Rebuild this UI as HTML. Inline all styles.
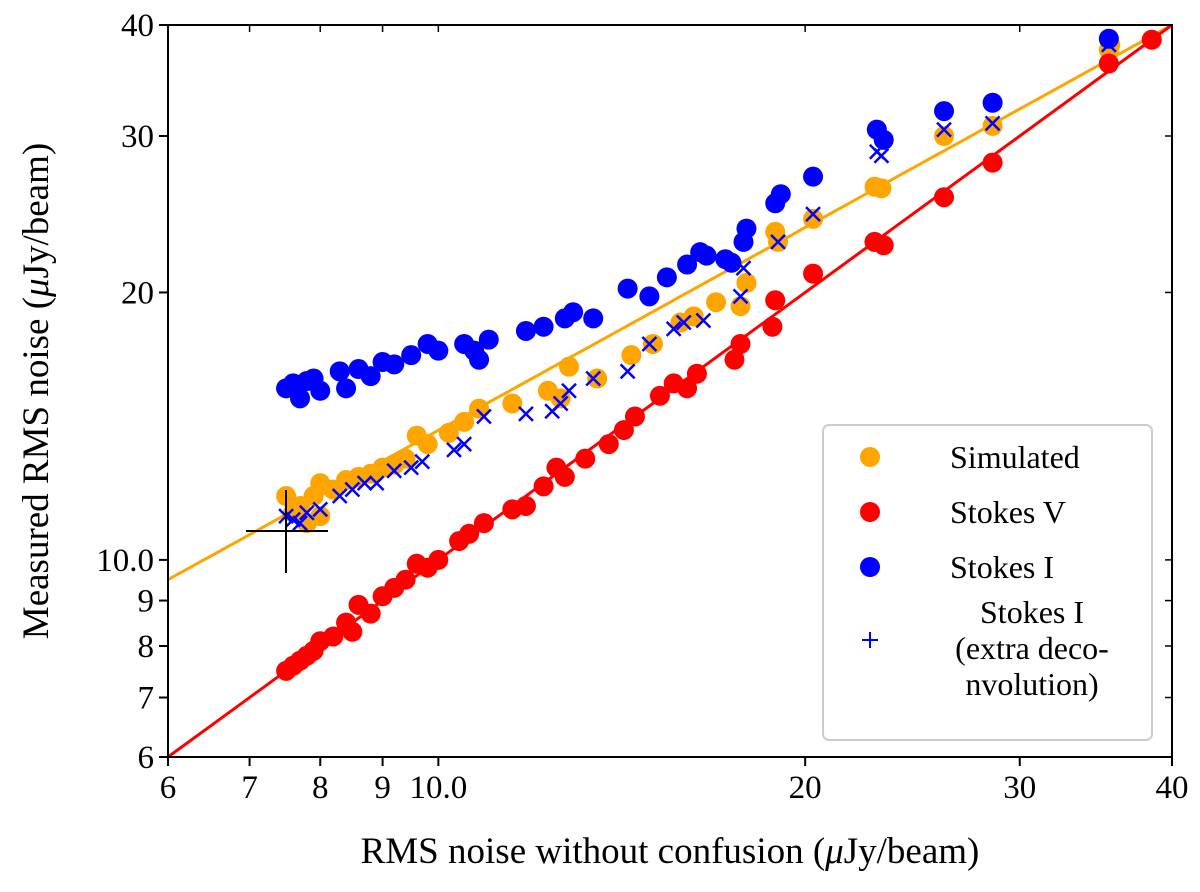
<!DOCTYPE html>
<html><head><meta charset="utf-8"><style>
body{margin:0;background:#fff}
svg text{font-family:"Liberation Serif",serif;fill:#000}
</style></head><body>
<svg width="1200" height="887" viewBox="0 0 1200 887" xmlns="http://www.w3.org/2000/svg">
<g id="plot"></g>
</svg>
<script>
const xTicks=[6,7,8,9,10,20,30,40];
const xTickLabels=["6","7","8","9","10.0","20","30","40"];
const yTicks=[6,7,8,9,10,20,30,40];
const yTickLabels=["6","7","8","9","10.0","20","30","40"];
const fitParams=[9.5,0.758];
const redX=[7.5,7.6,7.7,7.8,7.9,8.0,8.2,8.4,8.5,8.6,8.8,9.0,9.2,9.4,9.6,9.8,10.0,10.4,10.6,10.9,11.5,11.8,12.2,12.5,12.7,13.2,13.8,14.2,14.5,15.2,15.6,16.0,16.3,17.5,17.7,18.8,18.9,20.3,22.8,23.2,26.0,28.5,35.5,38.5];
const redY=[7.5,7.6,7.7,7.8,7.9,8.1,8.2,8.5,8.3,8.9,8.7,9.1,9.3,9.5,9.9,9.8,10.0,10.5,10.7,11.0,11.4,11.5,12.1,12.7,12.4,13.0,13.5,14.0,14.5,15.3,15.8,15.6,16.2,16.8,17.5,18.3,19.6,21.0,22.8,22.6,25.6,28.0,36.2,38.5];
const orangeX=[7.5,7.6,7.7,7.8,7.9,8.0,8.0,8.2,8.4,8.6,8.8,9.0,9.2,9.4,9.6,9.8,10.2,10.5,10.8,11.5,12.3,12.8,12.6,13.5,14.4,15.0,15.8,16.2,16.9,17.7,17.9,19.0,18.9,20.3,22.8,23.1,26.0,28.5,35.5,35.6];
const orangeY=[11.8,11.3,11.5,11.0,11.8,11.2,12.2,12.0,12.3,12.4,12.5,12.7,12.8,13.0,13.8,13.5,13.9,14.3,14.8,15.0,15.5,16.5,15.2,16.0,17.0,17.5,18.5,18.8,19.5,19.3,20.5,22.8,23.4,24.2,26.3,26.2,30.0,30.8,37.5,38.0];
const crossX=[7.5,7.6,7.7,7.8,8.0,8.3,8.5,8.7,8.9,9.2,9.5,9.7,10.3,10.5,10.9,11.8,12.4,12.6,12.8,13.4,14.3,14.9,15.6,15.9,16.5,17.7,17.8,19.0,20.3,22.9,23.1,26.0,28.5,35.5];
const crossY=[11.2,11.1,11.0,11.3,11.4,11.8,12.0,12.2,12.2,12.6,12.7,12.9,13.3,13.5,14.5,14.6,14.7,15.0,15.5,16.0,16.3,17.5,18.2,18.5,18.6,19.8,21.3,22.8,24.5,28.8,28.5,30.5,31.0,38.0];
const blueX=[7.5,7.6,7.7,7.8,7.9,8.0,8.3,8.4,8.6,8.8,9.0,9.2,9.5,9.8,10.0,10.5,10.8,10.7,11.0,11.8,12.2,12.7,12.9,13.4,14.3,14.9,15.4,16.0,16.4,16.6,17.2,17.4,17.8,17.9,18.9,19.1,20.3,22.9,23.2,26.0,28.5,35.5];
const blueY=[15.6,15.8,15.2,15.9,16.0,15.5,16.3,15.6,16.4,16.1,16.7,16.6,17.0,17.5,17.2,17.5,16.8,17.2,17.7,18.1,18.3,18.7,19.0,18.7,20.2,19.8,20.8,21.5,22.2,22.0,21.8,21.6,22.8,23.6,25.2,25.8,27.0,30.5,29.7,32.0,32.7,38.6];

const L=168,R=1172,T=25,B=757,xmin=6,xmax=40;
const sx=v=>L+(R-L)*Math.log(v/xmin)/Math.log(xmax/xmin);
const sy=v=>B-(B-T)*Math.log(v/xmin)/Math.log(xmax/xmin);
const NS="http://www.w3.org/2000/svg";
const g=document.getElementById('plot');
function mk(tag,attrs,parent){const e=document.createElementNS(NS,tag);for(const k in attrs)e.setAttribute(k,attrs[k]);(parent||g).appendChild(e);return e;}

const cp=mk('clipPath',{id:'clip'});mk('rect',{x:L,y:T,width:R-L,height:B-T},cp);
let d="";for(let i=0;i<=100;i++){const x=xmin*Math.pow(xmax/xmin,i/100);const y=fitParams[0]*Math.pow(x/6,fitParams[1]);d+=(i?"L":"M")+sx(x).toFixed(1)+","+sy(y).toFixed(1);}
let ol=mk('path',{d:d,stroke:'#ffa500','stroke-width':3,fill:'none','clip-path':'url(#clip)'});


let rl=mk('line',{x1:sx(6),y1:sy(6),x2:sx(40),y2:sy(40),stroke:'#ff0000','stroke-width':3});



function dots(X,Y,col,name){for(let i=0;i<X.length;i++){const c=mk('circle',{cx:sx(X[i]),cy:sy(Y[i]),r:10,fill:col});

}}
dots(orangeX,orangeY,'#ffa500','simulated-point');
dots(redX,redY,'#ff0000','stokes-v-point');
dots(blueX,blueY,'#0000ff','stokes-i-point');
for(let i=0;i<crossX.length;i++){const x=sx(crossX[i]),y=sy(crossY[i]),s=7;
const p=mk('path',{d:`M${x-s},${y-s}L${x+s},${y+s}M${x-s},${y+s}L${x+s},${y-s}`,stroke:'#0000ff','stroke-width':2.5});

}

const ec=mk('path',{d:'M246,531H328M286,490V573',stroke:'#000','stroke-width':2});



const fr=mk('rect',{x:L,y:T,width:R-L,height:B-T,fill:'none',stroke:'#000','stroke-width':2});


xTicks.forEach((v,i)=>{const x=sx(v);
mk('line',{x1:x,y1:B,x2:x,y2:B+9,stroke:'#000','stroke-width':2});
mk('line',{x1:x,y1:T,x2:x,y2:T+7,stroke:'#000','stroke-width':1.5});
const t=mk('text',{x:x,y:798,'font-size':33,'text-anchor':'middle'});t.textContent=xTickLabels[i];

});
yTicks.forEach((v,i)=>{const y=sy(v);
mk('line',{x1:L-9,y1:y,x2:L,y2:y,stroke:'#000','stroke-width':2});
mk('line',{x1:R-7,y1:y,x2:R,y2:y,stroke:'#000','stroke-width':1.5});
const t=mk('text',{x:L-14,y:y+11,'font-size':33,'text-anchor':'end'});t.textContent=yTickLabels[i];

});
const xt=mk('text',{x:670,y:863,'font-size':37,'text-anchor':'middle'});
xt.innerHTML='RMS noise without confusion (<tspan font-style="italic">μ</tspan>Jy/beam)';


const yt=mk('text',{x:0,y:0,'font-size':37,'text-anchor':'middle',transform:'translate(48,391) rotate(-90)'});
yt.innerHTML='Measured RMS noise (<tspan font-style="italic">μ</tspan>Jy/beam)';



const lg=mk('g',{});


mk('rect',{x:823,y:425,width:329,height:315,rx:6,fill:'#fff',stroke:'#ccc','stroke-width':2},lg);
[['#ffa500','Simulated',457],['#ff0000','Stokes V',512],['#0000ff','Stokes I',567]].forEach(e=>{
mk('circle',{cx:870,cy:e[2],r:10,fill:e[0]},lg);
const t=mk('text',{x:950,y:e[2]+11,'font-size':32},lg);t.textContent=e[1];

});
mk('path',{d:'M862,640H878M870,632V648',stroke:'#0000ff','stroke-width':2},lg);
['Stokes I','(extra deco-','nvolution)'].forEach((s,i)=>{const t=mk('text',{x:1032,y:623+i*36,'font-size':32,'text-anchor':'middle'},lg);t.textContent=s;

});
</script>
</body></html>
